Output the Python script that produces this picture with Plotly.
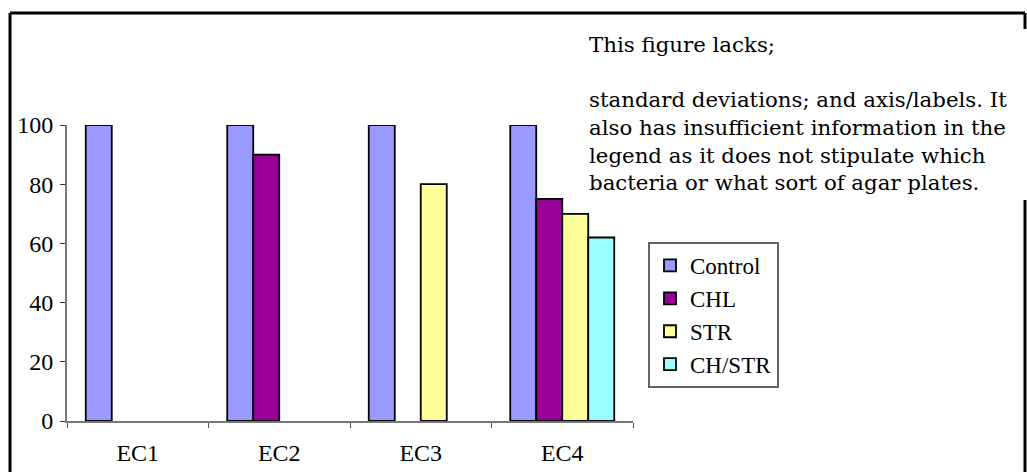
import plotly.graph_objects as go

# ---- data ----
categories = ["EC1", "EC2", "EC3", "EC4"]
series_names = ["Control", "CHL", "STR", "CH/STR"]
control = [100, 100, 100, 100]
chl = [None, 90, None, 75]
strep = [None, None, 80, 70]
ch_str = [None, None, None, 62]
y_ticks = [0, 20, 40, 60, 80, 100]
note_lines = [
    "This figure lacks;",
    "",
    "standard deviations; and axis/labels. It",
    "also has insufficient information in the",
    "legend as it does not stipulate which",
    "bacteria or what sort of agar plates.",
]

colors = ["#9999FF", "#990099", "#FFFF99", "#99FFFF"]
FONT = "Liberation Serif"

W, H = 1027, 472
# plot area in window pixels
L, R, T, B = 67, 633, 125, 421


def px(x):
    return (x - L) / (R - L)


def py(y):
    return (B - y) / (B - T)


fig = go.Figure()
for i, (name, vals) in enumerate(zip(series_names, [control, chl, strep, ch_str])):
    fig.add_trace(go.Bar(
        x=categories, y=vals, name=name,
        marker=dict(color=colors[i], line=dict(color="black", width=1.8)),
        legendgroup=name,
    ))

fig.update_layout(
    width=W, height=H,
    margin=dict(l=L, r=W - R, t=T, b=H - B, pad=0, autoexpand=False),
    paper_bgcolor="white", plot_bgcolor="white",
    barmode="group", bargap=0.265, bargroupgap=0,
    font=dict(family=FONT, size=23, color="black"),
    showlegend=True,
    legend=dict(
        x=px(648), y=py(242), xanchor="left", yanchor="top",
        bordercolor="#666666", borderwidth=2, bgcolor="white",
        font=dict(family=FONT, size=23, color="black"),
        tracegroupgap=0, itemwidth=30,
    ),
    xaxis=dict(
        showgrid=False, showline=True, linecolor="#777777", linewidth=2,
        ticks="outside", tickson="boundaries", ticklen=5, tickcolor="#555555",
        tickfont=dict(family=FONT, size=24), ticklabelstandoff=9,
        fixedrange=True, automargin=False,
    ),
    yaxis=dict(
        range=[0, 100], tickvals=y_ticks, showgrid=False, zeroline=False,
        showline=True, linecolor="#777777", linewidth=2,
        ticks="outside", ticklen=5, tickcolor="#333333",
        tickfont=dict(family=FONT, size=24), ticklabelstandoff=2,
        fixedrange=True, automargin=False,
    ),
)

# note text block
fig.add_annotation(
    text="<br>".join(note_lines), xref="paper", yref="paper",
    x=px(587), y=py(30), xanchor="left", yanchor="top",
    showarrow=False, align="left",
    font=dict(family="DejaVu Serif", size=21.3, color="black"),
)

# frame lines
frame = [
    (10, 13, 1025, 13),
    (10, 13, 10, 472),
    (1025, 13, 1025, 29),
    (1025, 200, 1025, 472),
]
for x0, y0, x1, y1 in frame:
    fig.add_shape(type="line", xref="paper", yref="paper",
                  x0=px(x0), y0=py(y0), x1=px(x1), y1=py(y1),
                  line=dict(color="black", width=3))

fig.write_html(
    "out.html",
    config={"displayModeBar": False},
    post_script="document.body.style.margin='0';document.body.style.overflow='hidden';",
)
